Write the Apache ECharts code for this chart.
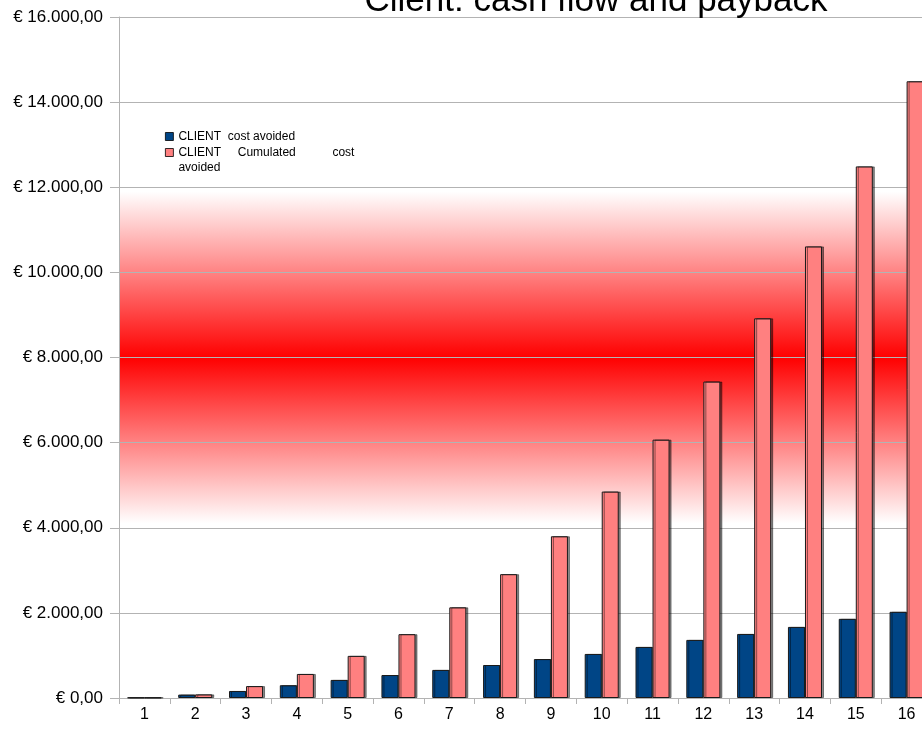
<!DOCTYPE html>
<html>
<head>
<meta charset="utf-8">
<script src="https://cdn.jsdelivr.net/npm/echarts@6/dist/echarts.min.js"></script>
<style>
  html, body { margin: 0; padding: 0; background: #ffffff; }
  #chart { width: 922px; height: 733px; }
</style>
</head>
<body>
<div id="chart"></div>
<script>
// ---- data ----
const titleText = 'Client: cash flow and payback';
const categories = ['1','2','3','4','5','6','7','8','9','10','11','12','13','14','15','16'];
const seriesNames = ['CLIENT  cost avoided', 'CLIENT     Cumulated           cost\navoided'];
const costAvoided = [10, 80, 165, 300, 425, 540, 660, 775, 915, 1035, 1200, 1365, 1505, 1670, 1860, 2025];
const cumulatedCostAvoided = [10, 85, 280, 565, 990, 1500, 2130, 2910, 3800, 4850, 6070, 7435, 8920, 10610, 12490, 14490];
const yMin = 0, yMax = 16000, yStep = 2000;
const bandRange = [4100, 11900];

function euro(v) {
  const parts = Math.abs(v).toFixed(2).split('.');
  const intPart = parts[0].replace(/\B(?=(\d{3})+(?!\d))/g, '.');
  return '€ ' + intPart + ',' + parts[1];
}

const chart = echarts.init(document.getElementById('chart'), null, { renderer: 'canvas' });
const font = 'Liberation Sans, Arial, sans-serif';
const barBorder = {
  borderColor: '#1a1a1a',
  borderWidth: 1,
  shadowColor: 'rgba(0,0,0,0.45)',
  shadowOffsetX: 2,
  shadowOffsetY: 0,
  shadowBlur: 0
};

chart.setOption({
  animation: false,
  backgroundColor: '#ffffff',
  textStyle: { fontFamily: font },
  title: {
    text: titleText,
    left: 591,
    top: -21,
    textAlign: 'center',
    textStyle: { fontSize: 35, fontWeight: 'normal', color: '#000000', fontFamily: font }
  },
  legend: {
    orient: 'vertical',
    left: 160,
    top: 124,
    itemWidth: 8,
    itemHeight: 8,
    itemGap: -14,
    icon: 'rect',
    textStyle: { fontSize: 12, color: '#000000', fontFamily: font, lineHeight: 15 },
    formatter: function (name) {
      return name.indexOf('\n') >= 0 ? '\n' + name : name;
    },
    data: [
      { name: seriesNames[0], itemStyle: { borderColor: '#000', borderWidth: 0.8 } },
      { name: seriesNames[1], itemStyle: { borderColor: '#000', borderWidth: 0.8 } }
    ]
  },
  grid: { left: 119, width: 813, top: 17, height: 681, containLabel: false, outerBoundsMode: 'none' },
  xAxis: {
    type: 'category',
    data: categories,
    axisLine: { lineStyle: { color: '#b3b3b3', width: 1 } },
    axisTick: { show: true, alignWithLabel: false, length: 6, lineStyle: { color: '#b3b3b3' } },
    axisLabel: { color: '#000000', fontSize: 16, margin: 9, fontFamily: font },
    splitLine: { show: false }
  },
  yAxis: {
    type: 'value',
    min: yMin,
    max: yMax,
    interval: yStep,
    axisLine: { show: true, lineStyle: { color: '#b3b3b3', width: 1 } },
    axisTick: { show: true, length: 9, lineStyle: { color: '#b3b3b3' } },
    axisLabel: { color: '#000000', fontSize: 17, margin: 16, fontFamily: font, formatter: euro },
    splitLine: { show: true, lineStyle: { color: '#b3b3b3', width: 1 } }
  },
  series: [
    {
      name: 'band',
      type: 'line',
      data: [],
      z: -1,
      silent: true,
      markArea: {
        z: -1,
        silent: true,
        label: { show: false },
        itemStyle: {
          color: {
            type: 'linear', x: 0, y: 0, x2: 0, y2: 1,
            colorStops: [
              { offset: 0, color: '#ffffff' },
              { offset: 0.5, color: '#ff0000' },
              { offset: 1, color: '#ffffff' }
            ]
          }
        },
        data: [[{ yAxis: bandRange[1] }, { yAxis: bandRange[0] }]]
      }
    },
    {
      name: seriesNames[0],
      type: 'bar',
      data: costAvoided,
      barGap: '0%',
      barCategoryGap: '33%',
      z: 3,
      itemStyle: Object.assign({ color: '#004586' }, barBorder)
    },
    {
      name: seriesNames[1],
      type: 'bar',
      data: cumulatedCostAvoided,
      barGap: '0%',
      barCategoryGap: '33%',
      z: 3,
      itemStyle: Object.assign({ color: '#ff8080' }, barBorder)
    }
  ]
});
</script>
</body>
</html>
